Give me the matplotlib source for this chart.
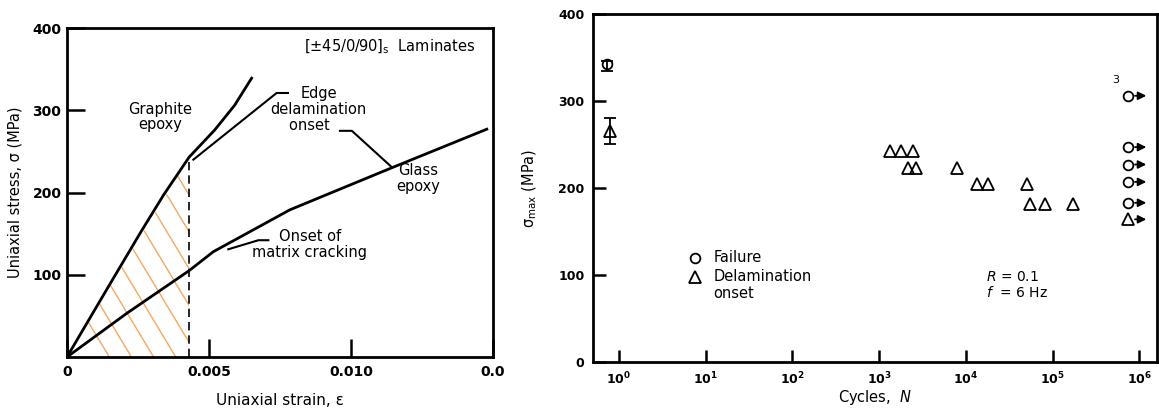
import numpy as np
import matplotlib
matplotlib.use("Agg")
import matplotlib.pyplot as plt
from matplotlib.patches import Polygon

# ---- data kiri: kurva tegangan-regangan ----
graphite_eps = [0, 0.0008, 0.0015, 0.0026, 0.0034, 0.0043, 0.0052, 0.0059, 0.0065]
graphite_sig = [0, 47, 88, 152, 197, 243, 276, 306, 339]
glass_eps = [0, 0.0021, 0.0043, 0.00515, 0.00785, 0.01143, 0.01478]
glass_sig = [0, 53, 105, 128, 179, 230, 277]
delam_eps = 0.0043     # regangan saat delaminasi tepi
delam_sig = 243

# ---- data kanan: fatigue ----
static_fail_N, static_fail_S, static_fail_err = 0.72, 342, [[7], [4]]
static_delam_N, static_delam_S, static_delam_err = 0.79, 266, [[15], [15]]
delam_N = [1330, 1800, 2460, 2150, 2680, 7960, 13600, 17800, 50000, 54700, 81000, 170000]
delam_S = [243, 243, 243, 223, 223, 223, 205, 205, 205, 182, 182, 182]
runout_N = [7.4e5, 7.4e5, 7.4e5, 7.4e5, 7.4e5, 7.4e5]
runout_S = [306, 247, 227, 207, 183, 164]
runout_mark = ['o', 'o', 'o', 'o', 'o', '^']

plt.rcParams['font.family'] = 'DejaVu Sans'
fig = plt.figure(figsize=(11.59, 4.09), dpi=100)

# ================= panel kiri =================
ax1 = fig.add_axes([0.0578, 0.1271, 0.3676, 0.8044])
ax1.set_xlim(0, 0.015)
ax1.set_ylim(0, 400)

# arsiran oranye di bawah kurva grafit sampai garis putus-putus
tri = Polygon([(0, 0), (delam_eps, delam_sig), (delam_eps, 0)], closed=True,
              transform=ax1.transData, facecolor='none', edgecolor='none')
ax1.add_patch(tri)
slope = -57400
for e0 in np.arange(0.00149, 0.0080, 0.00078):
    xs = np.array([0, e0])
    hl, = ax1.plot(xs, slope * (xs - e0), color='#f4a860', lw=1.0, zorder=1)
    hl.set_clip_path(tri)

ax1.plot(graphite_eps, graphite_sig, color='k', lw=2.0, zorder=3)
ax1.plot(glass_eps, glass_sig, color='k', lw=2.0, zorder=3)
ax1.plot([delam_eps, delam_eps], [0, delam_sig - 3], color='k', lw=1.2,
         ls=(0, (5, 3)), zorder=2)

# garis penunjuk label
ax1.plot([0.00778, 0.00738, 0.00445], [321, 321, 240], color='k', lw=1.5)
ax1.plot([0.00961, 0.01003, 0.01143], [275, 275, 231], color='k', lw=1.5)
ax1.plot([0.00709, 0.00674, 0.00568], [142, 142, 131], color='k', lw=1.5)

tkw = dict(fontsize=10.5, ha='center', va='center', linespacing=1.05)
ax1.text(0.00328, 292, 'Graphite\nepoxy', **tkw)
ax1.text(0.00886, 301, 'Edge\ndelamination\nonset    ', **tkw)
ax1.text(0.01237, 217, 'Glass\nepoxy', **tkw)
ax1.text(0.00855, 137, 'Onset of\nmatrix cracking', **tkw)
ax1.text(0.01135, 377, r'[$\pm$45/0/90]$_\mathregular{s}$  Laminates', fontsize=10.5,
         ha='center', va='center')

ax1.set_xticks([0, 0.005, 0.010, 0.015], ['0', '0.005', '0.010', '0.0'])
ax1.set_yticks([100, 200, 300, 400], ['100', '200', '300', '400'])
ax1.tick_params(direction='in', length=13, width=1.8, labelsize=10, pad=6)
ax1.tick_params(axis='y', pad=4)
for lab in ax1.get_xticklabels() + ax1.get_yticklabels():
    lab.set_fontweight('bold')
for s in ax1.spines.values():
    s.set_linewidth(2.0)
ax1.set_xlabel('Uniaxial strain, ε', fontsize=11, labelpad=10)
ax1.set_ylabel('Uniaxial stress, σ (MPa)', fontsize=10.5, labelpad=7)

# ================= panel kanan =================
ax2 = fig.add_axes([0.5116, 0.1149, 0.4867, 0.8509])
ax2.set_xscale('log')
ax2.set_xlim(0.50, 1.6e6)
ax2.set_ylim(0, 400)

mk = dict(mfc='none', mec='k', mew=1.3, color='k', ls='none')
ax2.errorbar(static_fail_N, static_fail_S, yerr=static_fail_err, fmt='o', ms=7,
             capsize=4, elinewidth=1.3, capthick=1.3, **mk)
ax2.errorbar(static_delam_N, static_delam_S, yerr=static_delam_err, fmt='^', ms=8,
             capsize=4, elinewidth=1.3, capthick=1.3, **mk)
ax2.plot(delam_N, delam_S, marker='^', ms=9, **mk)
for n, s, m in zip(runout_N, runout_S, runout_mark):
    ax2.plot(n, s, marker=m, ms=8 if m == '^' else 7, **mk)
    ax2.annotate('', xy=(n * 1.75, s), xytext=(n * 1.12, s),
                 arrowprops=dict(arrowstyle='-|>', color='k', lw=1.3,
                                 mutation_scale=12))
ax2.text(5.3e5, 324, '3', fontsize=8, ha='center', va='center')

# legenda manual
ax2.plot(7.6, 120, marker='o', ms=7, **mk)
ax2.plot(7.6, 98, marker='^', ms=8, **mk)
ax2.text(12.2, 120, 'Failure', fontsize=10.5, va='center')
ax2.text(12.2, 98, 'Delamination', fontsize=10.5, va='center')
ax2.text(12.2, 79, 'onset', fontsize=10.5, va='center')
ax2.text(17000, 98, r'$R$ = 0.1', fontsize=10, va='center')
ax2.text(17000, 80, r'$f$  = 6 Hz', fontsize=10, va='center')

ax2.set_xticks([1e0, 1e1, 1e2, 1e3, 1e4, 1e5, 1e6])
ax2.minorticks_off()
ax2.set_yticks([0, 100, 200, 300, 400])
ax2.tick_params(direction='in', length=9, width=1.8, labelsize=9, pad=6)
ax2.tick_params(axis='y', pad=6)
for lab in ax2.get_xticklabels() + ax2.get_yticklabels():
    lab.set_fontweight('bold')
for s in ax2.spines.values():
    s.set_linewidth(2.0)
ax2.set_xlabel(r'Cycles,  $N$', fontsize=10.5, labelpad=1)
ax2.set_ylabel(r'σ$_\mathregular{max}$ (MPa)', fontsize=10.5, labelpad=14)

fig.savefig('out.png', dpi=100)
